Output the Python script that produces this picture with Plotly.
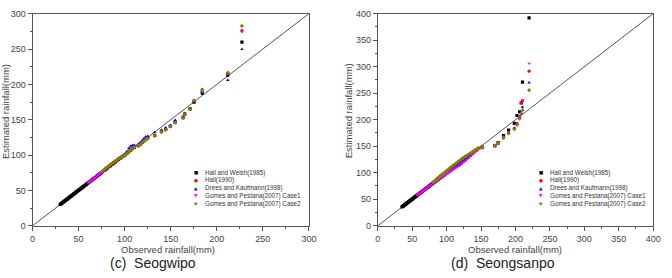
import plotly.graph_objects as go

# ---------------- (c) Seogwipo ----------------
obs_c_low = [30.1, 30.9, 31.5, 32.4, 33.0, 33.9, 34.6, 35.2, 36.1, 36.9, 37.5, 38.4, 39.2, 39.9, 40.6, 41.5, 42.3, 42.9, 43.8,
             44.6, 45.3, 46.2, 47.0, 47.7, 48.6, 49.4, 50.1, 51.0, 51.9, 52.6, 53.5, 54.4, 55.2, 56.1, 57.0, 57.8, 58.7, 59.6]
obs_c_mid = [60.5, 61.8, 63.0, 64.4, 65.7, 67.1, 68.3, 69.6, 70.9, 72.2, 73.5, 74.7]
obs_c_high = [76.0, 77.8, 79.5, 81.2, 83.0, 84.7, 86.4, 88.1, 89.9, 91.6, 93.4, 95.2, 97.0, 98.9, 100.8, 102.6, 104.5, 106.4,
              108.3, 110.5, 114.8, 116.9, 119.2, 121.0, 122.8, 125.1, 132.6, 140.0, 144.5, 149.6, 154.8, 163.5, 165.2, 171.0,
              175.3, 184.2, 212.0, 227.3]

hw_c_low = [30.3, 30.8, 31.6, 32.5, 33.1, 34.0, 34.7, 35.4, 36.2, 37.0, 37.6, 38.5, 39.3, 40.1, 40.8, 41.6, 42.4, 43.1, 43.9,
            44.8, 45.5, 46.3, 47.2, 47.9, 48.8, 49.6, 50.3, 51.2, 52.0, 52.8, 53.7, 54.6, 55.4, 56.3, 57.2, 58.0, 58.9, 59.8]
hw_c_mid = [60.9, 62.1, 63.3, 64.6, 66.0, 67.3, 68.6, 69.9, 71.2, 72.5, 73.8, 75.0]
hw_c_high = [76.4, 78.2, 79.9, 81.7, 83.5, 85.2, 86.9, 88.7, 90.4, 92.1, 93.8, 95.6, 97.3, 99.0, 100.6, 102.6, 104.8, 107.0,
             109.0, 111.0, 113.4, 115.4, 118.0, 120.3, 122.2, 124.5, 127.8, 133.2, 136.2, 140.8, 146.4, 152.8, 157.8, 165.4,
             175.0, 188.5, 213.0, 259.8]
hall_c_mid = [61.0, 62.2, 63.3, 64.7, 66.0, 67.4, 68.7, 70.0, 71.3, 72.6, 73.9, 75.2]
hall_c_high = [77.0, 79.0, 80.9, 82.7, 84.5, 86.2, 87.9, 89.6, 91.3, 93.0, 94.7, 96.3, 97.9, 99.4, 100.9, 102.9, 105.5, 108.0,
               109.8, 111.6, 113.8, 115.9, 118.5, 120.8, 122.6, 124.8, 128.0, 133.5, 136.5, 141.0, 146.6, 153.6, 158.4, 166.0,
               176.8, 192.7, 215.5, 275.9]
dk_c_mid = [60.8, 62.0, 63.2, 64.5, 65.9, 67.2, 68.5, 69.8, 71.1, 72.4, 73.7, 74.9]
dk_c_high = [76.8, 78.5, 80.2, 82.0, 83.8, 85.5, 87.2, 89.0, 90.8, 92.5, 94.3, 96.1, 97.8, 99.7, 102.5, 105.4, 109.6, 112.3,
             113.6, 114.2, 115.6, 117.7, 120.8, 123.5, 125.9, 126.8, 132.3, 135.8, 139.0, 142.2, 149.4, 154.0, 159.1, 166.0,
             175.2, 186.0, 206.0, 249.7]
gp1_c_mid = [61.2, 62.5, 63.4, 64.6, 65.8, 67.0, 68.5, 69.9, 71.4, 72.9, 74.2, 75.6]
gp1_c_high = [76.6, 78.6, 80.5, 82.4, 84.2, 85.9, 87.6, 89.4, 91.1, 92.8, 94.5, 96.1, 97.7, 99.2, 100.6, 102.6, 105.0, 107.4,
              109.3, 111.1, 113.3, 115.4, 117.9, 120.2, 122.1, 124.2, 127.6, 133.0, 136.0, 140.6, 146.2, 153.0, 158.0, 165.6,
              176.2, 191.8, 215.0, 274.1]
gp2_c_high = [77.2, 79.4, 81.3, 83.1, 84.9, 86.6, 88.2, 89.8, 91.4, 93.0, 94.6, 96.2, 97.6, 98.9, 100.2, 102.3, 104.6, 106.8,
              108.9, 110.8, 113.0, 114.9, 117.4, 119.6, 121.5, 123.6, 127.0, 132.8, 135.6, 140.1, 145.7, 152.4, 157.5, 165.2,
              177.6, 190.5, 216.8, 282.7]
line_c = [0, 300]

# ---------------- (d) Seongsanpo ----------------
obs_d_low = [35.2, 36.0, 36.7, 37.5, 38.4, 39.1, 39.9, 40.8, 41.5, 42.3, 43.2, 44.0, 44.8, 45.7, 46.5, 47.3, 48.2, 49.0,
             49.9, 50.8, 51.6, 52.5, 53.4, 54.3, 55.2, 56.1, 57.0]
obs_d_mid = [57.8, 59.5, 61.2, 62.9, 64.6, 66.3, 68.0, 69.8, 71.5, 73.3, 75.0, 76.8, 78.6]
obs_d_high = [80.4, 82.3, 84.2, 86.1, 88.0, 90.0, 92.0, 94.0, 96.1, 98.2, 100.3, 102.4, 104.6, 106.8, 109.0, 111.3, 113.6,
              116.0, 118.4, 120.9, 123.4, 126.0, 128.6, 131.3, 134.1, 137.0, 140.0, 143.2, 146.5, 152.0, 170.0, 174.8,
              182.6, 190.0, 198.4, 202.2, 206.0, 208.3, 210.2, 219.8]

hw_d_low = [35.5, 36.3, 37.1, 37.9, 38.7, 39.4, 40.3, 41.1, 41.9, 42.7, 43.5, 44.3, 45.2, 46.0, 46.8, 47.7, 48.5, 49.4,
            50.2, 51.1, 51.9, 52.8, 53.7, 54.6, 55.5, 56.4, 57.3]
hw_d_mid = [58.2, 59.8, 61.5, 63.1, 64.8, 66.5, 68.2, 70.0, 71.7, 73.5, 75.2, 77.0, 78.8]
hw_d_high = [80.6, 82.4, 84.2, 86.0, 87.9, 89.8, 91.7, 93.6, 95.6, 97.6, 99.6, 101.6, 103.6, 105.6, 107.6, 109.6, 111.4,
             113.2, 115.4, 118.0, 120.8, 123.8, 126.8, 130.0, 133.2, 136.4, 139.8, 143.0, 146.0, 148.5, 151.0, 157.0,
             170.0, 180.6, 193.0, 208.0, 215.0, 231.5, 271.0, 392.0]
hall_d_mid = [58.1, 59.7, 61.4, 63.0, 64.7, 66.4, 68.1, 69.8, 71.5, 73.2, 75.0, 76.7, 78.5]
hall_d_high = [80.8, 82.6, 84.5, 86.4, 88.3, 90.2, 92.2, 94.2, 96.2, 98.2, 100.2, 102.3, 104.3, 106.4, 108.5, 110.6, 112.7,
               114.8, 117.0, 119.4, 122.0, 124.8, 127.6, 130.6, 133.6, 136.8, 140.0, 143.2, 146.2, 148.0, 150.5, 155.5,
               166.0, 175.0, 183.5, 193.0, 205.0, 232.0, 236.0, 291.5]
dk_d_mid = [57.9, 59.5, 61.1, 62.7, 64.4, 66.0, 67.7, 69.4, 71.1, 72.8, 74.6, 76.3, 78.1]
dk_d_high = [80.5, 82.3, 84.1, 86.0, 87.9, 89.8, 91.8, 93.7, 95.7, 97.7, 99.7, 101.7, 103.8, 105.8, 107.9, 110.0, 112.1,
             114.2, 116.4, 118.8, 121.4, 124.2, 127.0, 130.0, 133.0, 136.2, 139.4, 142.6, 145.6, 147.5, 150.0, 155.0,
             166.5, 175.5, 184.0, 192.0, 206.0, 212.0, 223.6, 270.0]
gp1_d_mid = [58.0, 59.6, 61.2, 62.8, 64.4, 66.1, 67.8, 69.5, 71.2, 73.0, 74.7, 76.5, 78.4]
gp1_d_high = [80.2, 82.0, 83.8, 85.6, 87.4, 89.2, 91.0, 92.8, 94.6, 96.5, 98.3, 100.1, 102.0, 103.9, 105.8, 107.8, 109.8,
              111.8, 114.0, 116.4, 119.0, 121.8, 124.8, 127.8, 131.0, 134.2, 137.6, 141.0, 144.2, 146.7, 149.6, 154.5,
              165.0, 175.0, 183.0, 191.0, 205.0, 210.0, 237.0, 306.0]
gp2_d_high = [82.0, 84.4, 86.7, 88.9, 91.0, 93.2, 95.4, 97.5, 99.6, 101.8, 104.0, 106.3, 108.6, 111.0, 113.2, 115.4, 117.6,
              120.0, 122.6, 125.2, 127.6, 129.8, 132.0, 134.4, 136.8, 139.0, 141.6, 144.2, 146.0, 148.0, 151.5, 156.0,
              167.0, 174.0, 182.0, 190.0, 202.0, 212.0, 218.0, 255.7]
line_d = [0, 400]

series_names = ["Hall and Welsh(1985)", "Hall(1990)", "Drees and Kaufmann(1998)",
                "Gomes and Pestana(2007) Case1", "Gomes and Pestana(2007) Case2"]
series_colors = ["#000000", "#ff0000", "#0000ff", "#ff00ff", "#808000"]
series_symbols = ["square", "circle", "triangle-up", "triangle-down", "diamond"]
legend_glyphs = ["■", "●", "▲", "▼", "◆"]

FONT = "Liberation Sans, Arial, sans-serif"
W, H = 672, 278

fig = go.Figure()

data_c = [
    (obs_c_low + obs_c_mid + obs_c_high, hw_c_low + hw_c_mid + hw_c_high),
    (obs_c_mid + obs_c_high, hall_c_mid + hall_c_high),
    (obs_c_mid + obs_c_high, dk_c_mid + dk_c_high),
    (obs_c_mid + obs_c_high, gp1_c_mid + gp1_c_high),
    (obs_c_high, gp2_c_high),
]
data_d = [
    (obs_d_low + obs_d_mid + obs_d_high, hw_d_low + hw_d_mid + hw_d_high),
    (obs_d_mid + obs_d_high, hall_d_mid + hall_d_high),
    (obs_d_mid + obs_d_high, dk_d_mid + dk_d_high),
    (obs_d_mid + obs_d_high, gp1_d_mid + gp1_d_high),
    (obs_d_high, gp2_d_high),
]

fig.add_trace(go.Scatter(x=line_c, y=line_c, mode="lines", line=dict(color="#555555", width=1),
                         showlegend=False, xaxis="x", yaxis="y", hoverinfo="skip"))
fig.add_trace(go.Scatter(x=line_d, y=line_d, mode="lines", line=dict(color="#555555", width=1),
                         showlegend=False, xaxis="x2", yaxis="y2", hoverinfo="skip"))

for i in range(5):
    for (xs, ys), ax, ay in [(data_c[i], "x", "y"), (data_d[i], "x2", "y2")]:
        fig.add_trace(go.Scatter(x=xs, y=ys, mode="markers", name=series_names[i],
                                 marker=dict(color=series_colors[i], symbol=series_symbols[i], size=3.2,
                                             line=dict(width=0)),
                                 showlegend=False, xaxis=ax, yaxis=ay))

axis_common = dict(showgrid=False, zeroline=False, showline=True, mirror=True, linecolor="#555555", linewidth=1,
                   ticks="outside", ticklen=4, tickwidth=1, tickcolor="#555555",
                   tickfont=dict(family=FONT, size=9, color="#444444"),
                   minor=dict(ticks="outside", ticklen=2, tickcolor="#555555", dtick=25),
                   dtick=50, fixedrange=True)

y_dom = [(H - 229) / H, (H - 9) / H]
fig.update_layout(
    width=W, height=H, margin=dict(l=0, r=0, t=0, b=0),
    paper_bgcolor="white", plot_bgcolor="white",
    font=dict(family=FONT, color="#333333"),
    xaxis=dict(domain=[30 / W, 311 / W], range=[0, 300], anchor="y", **axis_common),
    yaxis=dict(domain=y_dom, range=[0, 300], anchor="x", **axis_common),
    xaxis2=dict(domain=[381 / W, 661 / W], range=[0, 400], anchor="y2", **axis_common),
    yaxis2=dict(domain=y_dom, range=[0, 400], anchor="x2", **axis_common),
)

ann = []
def px(x, y):
    return x / W, 1 - y / H

# axis titles
for cx, txt in [(168, "Observed rainfall(mm)"), (521, "Observed rainfall(mm)")]:
    x, y = px(cx, 254)
    ann.append(dict(x=x, y=y, xref="paper", yref="paper", text=txt, showarrow=False,
                    font=dict(family=FONT, size=9.5, color="#444444"), xanchor="center", yanchor="middle"))
for cx, cy in [(2, 110), (351, 110)]:
    x, y = px(cx, cy)
    ann.append(dict(x=x, y=y, xref="paper", yref="paper", text="Estimated rainfall(mm)", showarrow=False,
                    textangle=-90, font=dict(family=FONT, size=9.5, color="#444444"),
                    xanchor="center", yanchor="middle"))
# captions
for cx, txt in [(153, "(c)  Seogwipo"), (508, "(d)  Seongsanpo")]:
    x, y = px(cx, 278)
    ann.append(dict(x=x, y=y, xref="paper", yref="paper", text=txt, showarrow=False,
                    font=dict(family=FONT, size=14, color="#222222"), xanchor="center", yanchor="bottom"))
# legends
rows = [174, 182, 190, 198, 206]
for gx, tx in [(196, 203), (547, 554)]:
    for i, ry in enumerate(rows):
        x, y = px(gx, ry)
        ann.append(dict(x=x, y=y, xref="paper", yref="paper", text=legend_glyphs[i], showarrow=False,
                        font=dict(family="DejaVu Sans", size=4.5, color=series_colors[i]),
                        xanchor="center", yanchor="middle"))
        x, y = px(tx, ry)
        ann.append(dict(x=x, y=y, xref="paper", yref="paper", text=series_names[i], showarrow=False,
                        font=dict(family=FONT, size=6.3, color="#333333"),
                        xanchor="left", yanchor="middle"))
fig.update_layout(annotations=ann)

fig.write_html("out.html")
